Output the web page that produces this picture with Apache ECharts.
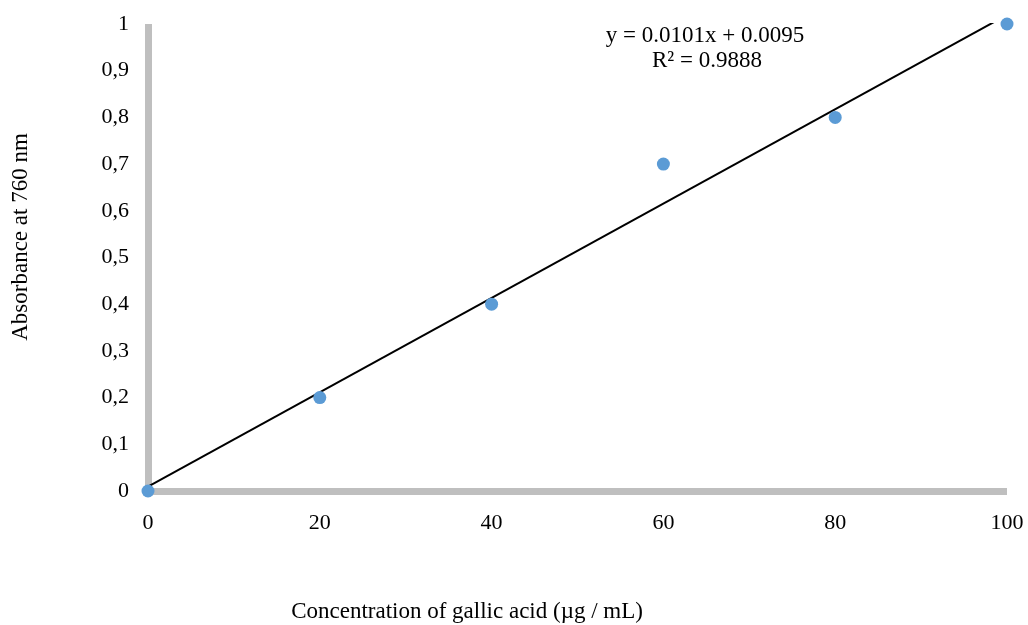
<!DOCTYPE html>
<html>
<head>
<meta charset="utf-8">
<script src="https://cdn.jsdelivr.net/npm/echarts@6/dist/echarts.min.js"></script>
<style>html,body{margin:0;padding:0;background:#fff;}#c{width:1028px;height:625px;}</style>
</head>
<body>
<div id="c"></div>
<script>
const concentrations = [0, 20, 40, 60, 80, 100];
const absorbance = [0, 0.2, 0.4, 0.7, 0.8, 1.0];
const slope = 0.0101;
const intercept = 0.0095;
const equationText = 'y = 0.0101x + 0.0095';
const r2Text = 'R² = 0.9888';
const xName = 'Concentration of gallic acid (µg / mL)';
const yName = 'Absorbance at 760 nm';

const trendX = [0, 100];
const trend = trendX.map(x => [x, slope * x + intercept]);
const points = concentrations.map((x, i) => [x, absorbance[i]]);

const font = '"Liberation Serif", "Times New Roman", serif';
const chart = echarts.init(document.getElementById('c'));
chart.setOption({
  animation: false,
  backgroundColor: '#fff',
  grid: { left: 148, right: 21, top: 24, bottom: 134 },
  xAxis: {
    type: 'value', min: 0, max: 100, interval: 20,
    axisLine: { onZero: false, lineStyle: { color: '#BFBFBF', width: 7, cap: 'butt' } },
    axisTick: { show: false },
    splitLine: { show: false },
    axisLabel: { color: '#000', fontFamily: font, fontSize: 22, margin: 21 }
  },
  yAxis: {
    type: 'value', min: 0, max: 1, interval: 0.1,
    axisLine: { show: true, onZero: false, lineStyle: { color: '#BFBFBF', width: 7, cap: 'butt' } },
    axisTick: { show: false },
    splitLine: { show: false },
    axisLabel: { color: '#000', fontFamily: font, fontSize: 22, margin: 19,
      formatter: v => String(Math.round(v * 10) / 10).replace('.', ',') }
  },
  graphic: [
    { type: 'text', x: 467, y: 612, style: { text: xName, fill: '#000', font: '23px ' + font, align: 'center', verticalAlign: 'middle' } },
    { type: 'text', x: 21, y: 237, rotation: Math.PI / 2, style: { text: yName, fill: '#000', font: '23px ' + font, align: 'center', verticalAlign: 'middle' } },
    { type: 'text', x: 705, y: 36, style: { text: equationText, fill: '#000', font: '23px ' + font, align: 'center', verticalAlign: 'middle' } },
    { type: 'text', x: 707, y: 61, style: { text: r2Text, fill: '#000', font: '23px ' + font, align: 'center', verticalAlign: 'middle' } }
  ],
  series: [
    { type: 'line', data: trend, symbol: 'none', clip: true, lineStyle: { color: '#000', width: 2 }, z: 3 },
    { type: 'scatter', data: points, symbolSize: 13, itemStyle: { color: '#5B9BD5', opacity: 1 }, z: 4, clip: false }
  ]
});
</script>
</body>
</html>
